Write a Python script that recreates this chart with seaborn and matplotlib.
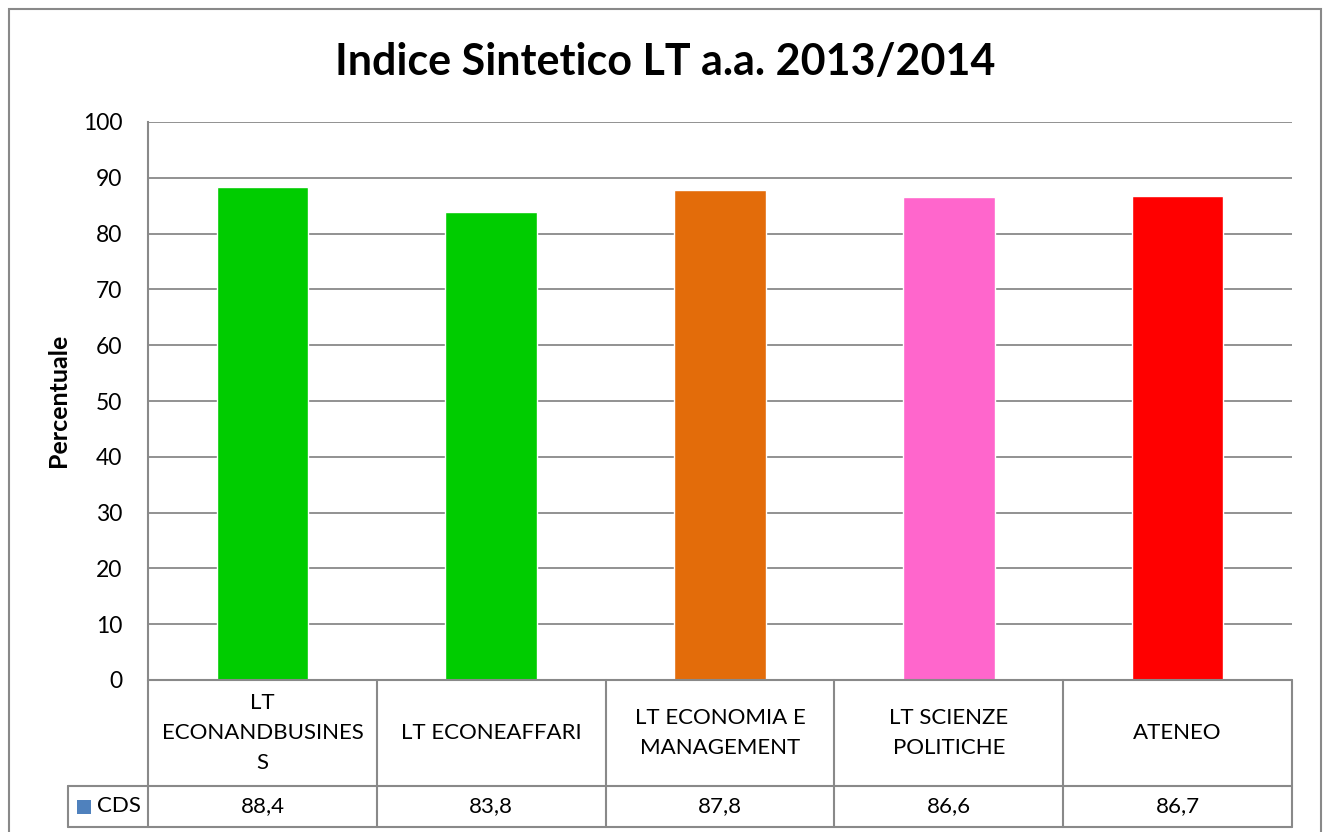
import matplotlib
matplotlib.use("Agg")
import matplotlib.pyplot as plt
import seaborn as sns
import pandas as pd
from matplotlib.lines import Line2D
from matplotlib.patches import Rectangle

categories = ["LT ECONANDBUSINESS", "LT ECONEAFFARI", "LT ECONOMIA E MANAGEMENT",
              "LT SCIENZE POLITICHE", "ATENEO"]
cat_labels = ["LT\nECONANDBUSINES\nS", "LT ECONEAFFARI", "LT ECONOMIA E\nMANAGEMENT",
              "LT SCIENZE\nPOLITICHE", "ATENEO"]
values = [88.4, 83.8, 87.8, 86.6, 86.7]
bar_colors = ["#00CC00", "#00CC00", "#E36C0A", "#FF66CC", "#FF0000"]
series_name = "CDS"
yticks = [0, 10, 20, 30, 40, 50, 60, 70, 80, 90, 100]
title = "Indice Sintetico LT a.a. 2013/2014"
ylabel = "Percentuale"

sns.set_style("white")
plt.rcParams["font.family"] = ["Lato", "DejaVu Sans"]
plt.rcParams["text.color"] = "black"
plt.rcParams["ytick.color"] = "black"
plt.rcParams["xtick.color"] = "black"

W, H = 1324, 832
fig = plt.figure(figsize=(W / 100, H / 100), dpi=100)
fig.patch.set_facecolor("white")

def px_axes(x0, y0, x1, y1):
    return fig.add_axes([x0 / W, 1 - y1 / H, (x1 - x0) / W, (y1 - y0) / H])

gray = "#898989"

# outer chart border
fig.add_artist(Rectangle((9 / W, -0.01), (1321 - 9) / W, 1 - 9 / H + 0.01,
                         transform=fig.transFigure, fill=False, edgecolor=gray, lw=1.5))

# main plot
ax = px_axes(148, 122, 1292, 680)
df = pd.DataFrame({"cat": categories, "val": values})
sns.barplot(data=df, x="cat", y="val", hue="cat", palette=bar_colors,
            width=0.4, legend=False, ax=ax, saturation=1)
ax.set_ylim(0, 100)
ax.set_xlim(-0.5, len(categories) - 0.5)
ax.set_yticks(yticks)
ax.set_yticklabels([str(t) for t in yticks], fontsize=16.5, color="black")
ax.tick_params(axis="y", length=0, pad=18.5)
ax.set_xticks([])
ax.set_xlabel("")
ax.set_ylabel("")
ax.grid(axis="y", color=gray, lw=1.3)
ax.set_axisbelow(True)
for s in ["top", "right", "bottom"]:
    ax.spines[s].set_visible(False)
ax.spines["left"].set_color(gray)
ax.spines["left"].set_linewidth(1.5)

fig.text(59 / W, 1 - 400 / H, ylabel, rotation=90, ha="center", va="center",
         fontsize=18, fontweight="bold", color="black")
fig.text(665 / W, 1 - 62 / H, title, ha="center", va="center",
         fontsize=31, fontweight="bold", color="black")

# data table
tx = px_axes(148, 680, 1292, 827)
tx.set_xlim(-0.5, len(categories) - 0.5)
tx.set_ylim(147, 0)
tx.axis("off")
row1 = 106
leg_left = -0.5 - 80 / 228.8
lk = dict(color=gray, lw=1.5, clip_on=False)
tx.add_line(Line2D([-0.5, 4.5], [0, 0], **lk))
tx.add_line(Line2D([leg_left, 4.5], [row1, row1], **lk))
tx.add_line(Line2D([leg_left, 4.5], [147, 147], **lk))
tx.add_line(Line2D([leg_left, leg_left], [row1, 147], **lk))
for i in range(len(categories) + 1):
    tx.add_line(Line2D([i - 0.5, i - 0.5], [0, 147], **lk))
for i, (lab, v) in enumerate(zip(cat_labels, values)):
    tx.text(i, row1 / 2, lab, ha="center", va="center", fontsize=16,
            linespacing=1.65, clip_on=False, color="black")
    tx.text(i, (row1 + 147) / 2, f"{v:.1f}".replace(".", ","), ha="center",
            va="center", fontsize=16, clip_on=False, color="black")
# legend key
tx.add_patch(Rectangle((leg_left + 9 / 228.8, row1 + 14), 14 / 228.8, 14,
                       facecolor="#4F81BD", edgecolor="none", clip_on=False))
tx.text(leg_left + 29 / 228.8, (row1 + 147) / 2, series_name, ha="left",
        va="center", fontsize=16, clip_on=False, color="black")

fig.savefig("out.png", dpi=100, facecolor="white")
